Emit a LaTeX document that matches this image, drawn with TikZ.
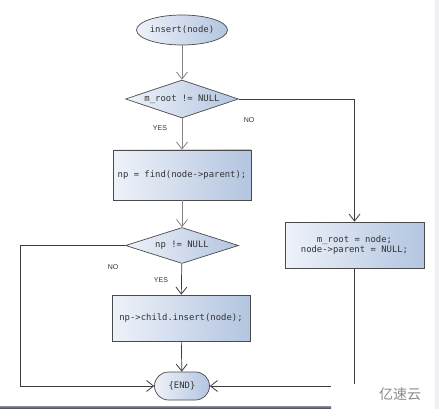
\documentclass[tikz,border=0pt]{standalone}
\usepackage{fontspec}
\setmainfont{Liberation Sans}
\setmonofont{DejaVu Sans Mono}
\newfontfamily\cjk{Noto Sans CJK SC}
\usetikzlibrary{shapes.geometric,shapes.misc,arrows.meta}
\definecolor{fillA}{HTML}{EEF2F9}
\definecolor{fillB}{HTML}{B3C5E0}
\definecolor{edgeC}{HTML}{4A4A4A}
\definecolor{lineC}{HTML}{3C3C3C}
\definecolor{lineG}{HTML}{858585}
\definecolor{txtC}{HTML}{333333}
\definecolor{stripC}{HTML}{EEF0F6}
\definecolor{bandA}{HTML}{8A8F98}
\definecolor{bandB}{HTML}{3A3F48}
\definecolor{wmC}{HTML}{8A8A8A}
\tikzset{
  x=1pt, y=-1pt,
  shapebase/.style={draw=edgeC, line width=0.7pt, left color=fillA, right color=fillB,
    font=\ttfamily\fontsize{8.9}{10.5}\selectfont, text=txtC, inner sep=0pt, align=center},
  startnode/.style={shapebase, ellipse, minimum width=78pt, minimum height=30pt},
  decision/.style={shapebase, diamond, aspect=3, minimum width=113pt, minimum height=38pt},
  procbox/.style={shapebase, rectangle, minimum width=138pt, minimum height=48pt},
  endnode/.style={shapebase, rounded rectangle, minimum width=55pt, minimum height=28pt},
  conn/.style={draw=lineC, line width=0.7pt, -{Straight Barb[length=7pt,width=11pt,line width=0.8pt]}},
  conng/.style={conn, draw=lineG},
  lbl/.style={font=\fontsize{7}{8}\selectfont, text=txtC, inner sep=0pt}
}
\begin{document}
\begin{tikzpicture}
\useasboundingbox (0,0) rectangle (439,409);
\fill[white] (0,0) rectangle (439,409);
\fill[stripC] (435,0) rectangle (439,409);

\node[startnode] (start) at (182,30) {insert(node)};
\node[decision] (d1) at (182,99) {m\_root != NULL};
\node[procbox, minimum height=50pt] (find) at (182,175) {np = find(node->parent);};
\node[decision, minimum height=36pt] (d2) at (182,245.5) {np != NULL};
\node[procbox, minimum height=46pt] (ins) at (181,318) {np->child.insert(node);};
\node[endnode] (end) at (182,386) {\{END\}};
\node[procbox, minimum width=139pt, minimum height=46pt] (rbox) at (354.5,245) {m\_root = node;\\node->parent = NULL;};
\coordinate (lc) at (20,386);

\draw[conng] (start) -- (d1);
\draw[conng] (d1) -- (find);
\draw[conn] (d1.east) -| (rbox.north);
\draw[conng] (find) -- (d2);
\draw[conn] (d2) -- (ins);
\draw[conn] (d2.west) -| (lc) -- (end.west);
\draw[conn] (ins) -- (end);
\draw[conn] (rbox.south) |- (end.east);

\node[lbl] (yes1) at (160,128) {YES};
\node[lbl] (no1) at (249,120) {NO};
\node[lbl] (no2) at (113,267) {NO};
\node[lbl] (yes2) at (161,280) {YES};

% watermark area
\fill[white] (331,384) rectangle (434,409);
\shade[top color=bandA, bottom color=bandB] (0,406) rectangle (331,409);
\node[font=\cjk\fontsize{14}{16}\selectfont, text=wmC, inner sep=0pt] (wm) at (400,394) {亿速云};
\end{tikzpicture}
\end{document}
